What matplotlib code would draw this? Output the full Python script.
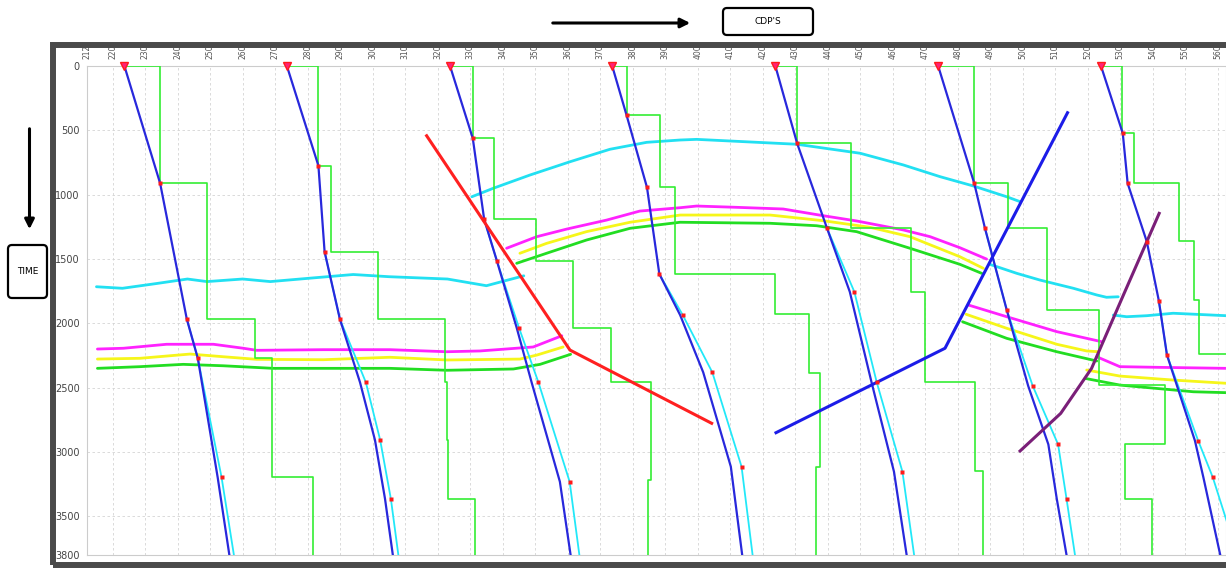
import numpy as np
import matplotlib
matplotlib.use("Agg")
import matplotlib.pyplot as plt
from matplotlib.patches import Rectangle, FancyBboxPatch
from matplotlib.transforms import IdentityTransform

# velocity analysis locations (CDP)
locs = [223.6, 273.6, 323.8, 373.7, 423.9, 474.0, 524.1]

# picks (time ms, offset in CDP units from location)
pick_t = [[912, 1966, 2272, 3196],
          [775, 1443, 1966, 2458, 2906, 3364],
          [562, 1191, 1513, 2033, 2458, 3230],
          [381, 943, 1616, 1935, 2380, 3113],
          [601, 1261, 1754, 2458, 3152],
          [912, 1261, 1896, 2486, 2940, 3364],
          [523, 912, 1365, 1824, 2246, 2911, 3196]]
pick_dx = [[11.0, 19.2, 22.6, 29.9],
           [9.7, 11.6, 16.3, 24.3, 28.7, 32.0],
           [7.0, 10.5, 14.4, 21.2, 27.2, 36.8],
           [4.4, 10.7, 14.5, 21.7, 30.8, 39.8],
           [6.7, 15.9, 24.3, 31.2, 39.1],
           [11.1, 14.4, 21.1, 29.1, 36.9, 39.5],
           [6.7, 8.2, 14.1, 17.8, 20.3, 29.9, 34.4]]

# blue function
blue_t = [[0, 912, 1966, 2272, 3196, 3800],
          [0, 775, 1443, 1966, 2458, 2906, 3364, 3800],
          [0, 562, 1191, 1513, 2033, 2458, 3230, 3800],
          [0, 381, 943, 1616, 1935, 2380, 3113, 3800],
          [0, 601, 1261, 1754, 2458, 3152, 3800],
          [0, 912, 1261, 1896, 2486, 2940, 3364, 3800],
          [0, 523, 912, 1365, 1824, 2246, 2911, 3196, 3800]]
blue_dx = [[0, 11.0, 19.2, 22.6, 28.7, 32.3],
           [0, 9.7, 11.6, 16.3, 22.5, 27.1, 30.2, 32.6],
           [0, 7.0, 10.5, 14.4, 20.5, 25.1, 33.8, 37.1],
           [0, 4.4, 10.7, 14.5, 20.9, 28.0, 36.5, 40.0],
           [0, 6.7, 15.9, 22.9, 29.6, 36.5, 40.4],
           [0, 11.1, 14.4, 21.1, 27.7, 33.9, 36.5, 39.5],
           [0, 6.7, 8.2, 14.1, 17.8, 20.3, 28.9, 31.5, 36.7]]

# cyan function
cyan_t = [[1966, 2272, 3196, 3800],
          [1443, 1966, 2458, 2906, 3364, 3800],
          [1191, 1513, 2033, 2458, 3230, 3800],
          [1616, 1935, 2380, 3113, 3800],
          [1261, 1754, 2458, 3152, 3800],
          [1261, 1896, 2486, 2940, 3364, 3800],
          [1824, 2246, 2911, 3196, 3800]]
cyan_dx = [[19.2, 22.6, 29.9, 33.7],
           [11.6, 16.3, 24.3, 28.7, 32.0, 34.3],
           [10.5, 14.4, 21.2, 27.2, 36.8, 39.8],
           [14.5, 21.7, 30.8, 39.8, 43.2],
           [15.9, 24.3, 31.2, 39.1, 42.7],
           [14.4, 21.1, 29.1, 36.9, 39.5, 42.1],
           [17.8, 20.3, 29.9, 34.4, 42.0]]

# interval steps: layer boundaries and values
step_t = [[0, 912, 1966, 2272, 3196, 3800],
          [0, 775, 1443, 1966, 2458, 2906, 3364, 3800],
          [0, 562, 1191, 1513, 2033, 2453, 3217, 3800],
          [0, 381, 943, 1616, 1930, 2382, 3113, 3800],
          [0, 601, 1261, 1754, 2453, 3147, 3800],
          [0, 912, 1261, 1896, 2476, 2940, 3364, 3800],
          [0, 523, 912, 1360, 1819, 2240, 3800]]
step_dx = [[11.0, 25.5, 40.1, 45.3, 57.9],
           [9.7, 13.7, 28.1, 48.7, 49.2, 49.7, 57.9],
           [7.0, 13.5, 26.4, 37.9, 49.5, 61.7, 60.9],
           [4.4, 14.6, 19.2, 50.2, 60.6, 63.9, 62.7],
           [6.7, 23.3, 41.6, 46.0, 61.4, 63.9],
           [11.1, 21.6, 33.4, 49.6, 69.8, 57.5, 65.7],
           [6.6, 10.3, 24.0, 28.7, 30.0, 45.0]]

# horizons, one list of (cdp, time) segments each
cyan_hz = [
    ([215, 223, 233.5, 243, 249, 260, 268.5, 280, 294, 305, 323, 335, 346.5],
     [1715, 1727, 1690, 1655, 1675, 1655, 1675, 1650, 1620, 1637, 1655, 1707, 1630]),
    ([330.5, 337.1, 348.4, 360.7, 373.0, 384.3, 394.6, 399.7, 430.5, 450.0, 463.3, 474.6, 484.8, 495.1, 499.2],
     [1016, 950, 847, 744, 647, 593, 575, 570, 608, 678, 769, 860, 932, 1016, 1054]),
    ([489.9, 498.2, 505.3, 515.6, 522.8, 525.8, 529.4],
     [1541, 1611, 1663, 1727, 1779, 1797, 1793]),
    ([527.9, 532.0, 538.2, 546.3, 562.6],
     [1935, 1948, 1940, 1921, 1940]),
]
magenta_hz = [
    ([215.3, 223.3, 236.6, 251.0, 260.2, 264.3, 284.8, 305.3, 322.8, 333.0, 349.4, 358.2],
     [2199, 2193, 2162, 2162, 2193, 2209, 2204, 2204, 2220, 2214, 2183, 2096]),
    ([341.2, 350.5, 359.7, 372.0, 382.2, 394.6, 399.7, 412.0, 426.3, 438.6, 448.9, 463.3, 471.5, 480.7, 488.9],
     [1416, 1326, 1267, 1197, 1127, 1101, 1088, 1098, 1111, 1163, 1204, 1274, 1326, 1412, 1500]),
    ([483.3, 495.1, 510.5, 524.3],
     [1857, 1948, 2064, 2142]),
    ([522.8, 529.9, 541.2, 562.6],
     [2259, 2336, 2341, 2349]),
]
yellow_hz = [
    ([215.3, 228.4, 243.8, 254.1, 264.3, 284.8, 305.3, 322.8, 345.3, 350.5, 358.6],
     [2277, 2271, 2238, 2259, 2279, 2282, 2263, 2284, 2277, 2246, 2183]),
    ([345.3, 353.5, 365.8, 379.2, 394.6, 422.3, 438.6, 453.0, 465.3, 480.7, 487.9],
     [1455, 1378, 1287, 1214, 1158, 1158, 1202, 1253, 1326, 1482, 1572]),
    ([482.6, 495.1, 510.5, 519.7, 523.3],
     [1929, 2038, 2162, 2214, 2220]),
    ([519.7, 529.9, 546.3, 562.6],
     [2362, 2409, 2440, 2465]),
]
green_hz = [
    ([215.3, 228.4, 241.7, 254.0, 269.4, 284.8, 305.3, 322.8, 343.3, 351.5, 360.9],
     [2349, 2336, 2318, 2329, 2349, 2349, 2349, 2364, 2354, 2318, 2240]),
    ([344.3, 353.5, 365.8, 379.2, 394.6, 422.3, 436.6, 448.9, 465.3, 480.7, 487.4],
     [1533, 1455, 1352, 1261, 1214, 1222, 1241, 1287, 1416, 1541, 1611]),
    ([481.5, 495.1, 510.5, 522.8],
     [1987, 2116, 2220, 2292]),
    ([519.2, 529.9, 552.5, 562.6],
     [2427, 2479, 2531, 2538]),
]

# fault traces
red_fault = ([316.6, 360.7, 404.3], [542, 2207, 2776])
blue_fault = ([424.1, 476.1, 513.8], [2849, 2193, 363])
purple_fault = ([499.2, 511.7, 521.2, 531.0, 542.0], [2991, 2699, 2349, 1779, 1145])

xticks = [212] + list(range(220, 561, 10))
yticks = [0, 500, 1000, 1500, 2000, 2500, 3000, 3500, 3800]

W, H = 1226, 568
fig = plt.figure(figsize=(W / 100, H / 100), dpi=100)
ax = fig.add_axes([86.7 / W, 1 - 555.1 / H, (1225.8 - 86.7) / W, (555.1 - 66) / H])

ax.set_xlim(212, 562.5)
ax.set_ylim(3800, 0)
ax.xaxis.tick_top()
ax.set_xticks(xticks)
ax.set_xticklabels([str(v) for v in xticks], rotation=90, fontsize=5.5, color="#555555")
ax.set_yticks(yticks)
ax.set_yticklabels([str(v) for v in yticks], fontsize=7, color="#444444")
ax.tick_params(length=0, pad=5)
for s in ax.spines.values():
    s.set_color("#cccccc")
    s.set_linewidth(0.8)
for v in xticks[1:]:
    ax.axvline(v, color="#d4d4d4", lw=0.6, ls=(0, (3, 3)), zorder=0)
for v in yticks[1:-1]:
    ax.axhline(v, color="#d4d4d4", lw=0.6, ls=(0, (3, 3)), zorder=0)

# horizons
for segs, col in [(cyan_hz, "#22e0f2"), (magenta_hz, "#ff22ff"),
                  (yellow_hz, "#f6f61a"), (green_hz, "#22dd22")]:
    for xs, ts in segs:
        ax.plot(xs, ts, color=col, lw=2.0, solid_capstyle="round", zorder=2)

# interval velocity steps
for L, tt, vv in zip(locs, step_t, step_dx):
    tt = np.asarray(tt, float)
    vv = np.asarray(vv, float)
    xs = np.concatenate([[0], np.repeat(vv, 2)]) + L
    ys = np.concatenate([[0], np.repeat(tt, 2)[1:-1]])
    ax.plot(xs, ys, color="#33ee33", lw=1.2, zorder=3)

# velocity functions
for i, L in enumerate(locs):
    ax.plot(L + np.asarray(cyan_dx[i]), cyan_t[i], color="#22e8f8", lw=1.3, zorder=4)
    ax.plot(L + np.asarray(blue_dx[i]), blue_t[i], color="#2828dc", lw=1.6, zorder=5)

# faults
ax.plot(*red_fault, color="#ff2020", lw=2.2, zorder=6)
ax.plot(*blue_fault, color="#1c1ce8", lw=2.2, zorder=6)
ax.plot(*purple_fault, color="#7a1f78", lw=2.2, zorder=6)

# picks and location markers
for i, L in enumerate(locs):
    ax.plot(L + np.asarray(pick_dx[i]), pick_t[i], ls="none", marker="s",
            ms=3.4, color="#ff1a1a", mec="none", zorder=7)
ax.plot(locs, [0] * len(locs), ls="none", marker="v", ms=6, color="#ff2277",
        mec="#ff1a1a", clip_on=False, zorder=8)

# frame around the panel
px = IdentityTransform()
fig.add_artist(Rectangle((53, 3), 1200, 520, transform=px, fill=False,
                         ec="#4a4a4a", lw=4.3))

# CDP direction
ax.annotate("", xy=(693, 545), xytext=(550, 545), xycoords="figure pixels",
            textcoords="figure pixels",
            arrowprops=dict(arrowstyle="-|>", color="black", lw=2.2, mutation_scale=14))
fig.add_artist(FancyBboxPatch((723, 533), 90, 27, transform=px,
                              boxstyle="round,pad=0,rounding_size=4",
                              fc="white", ec="black", lw=1.6))
fig.text(768 / W, 546.5 / H, "CDP'S", ha="center", va="center", fontsize=6.5)

# time direction
ax.annotate("", xy=(29.5, 336), xytext=(29.5, 442), xycoords="figure pixels",
            textcoords="figure pixels",
            arrowprops=dict(arrowstyle="-|>", color="black", lw=2.2, mutation_scale=14))
fig.add_artist(FancyBboxPatch((8, 270), 39, 53, transform=px,
                              boxstyle="round,pad=0,rounding_size=4",
                              fc="white", ec="black", lw=1.6))
fig.text(27.5 / W, 296.5 / H, "TIME", ha="center", va="center", fontsize=6.5)

fig.savefig("out.png", dpi=100)
